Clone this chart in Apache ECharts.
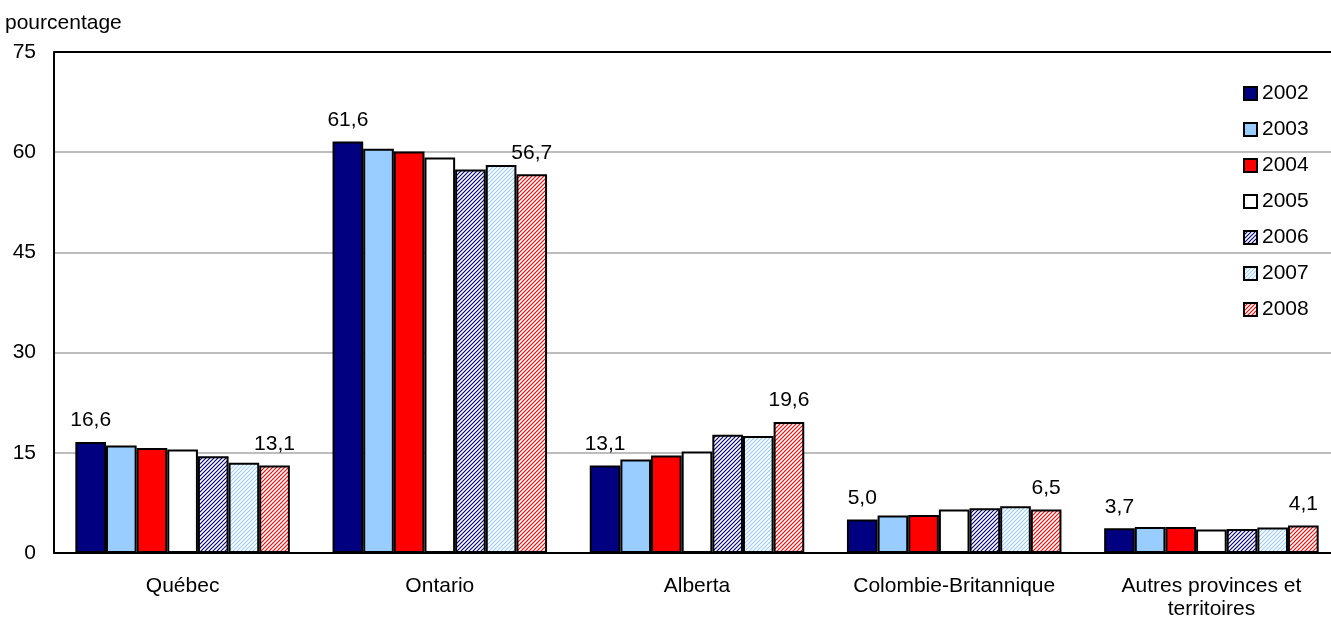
<!DOCTYPE html>
<html>
<head>
<meta charset="utf-8">
<script src="https://cdn.jsdelivr.net/npm/echarts@6/dist/echarts.min.js"></script>
<style>
  html, body { margin: 0; padding: 0; background: #fff; }
  #chart { width: 1331px; height: 619px; }
</style>
</head>
<body>
<div id="chart"></div>
<script>
// Provinces / regions on the category axis
const categories = ['Québec', 'Ontario', 'Alberta', 'Colombie-Britannique', 'Autres provinces et\nterritoires'];
const years = ['2002', '2003', '2004', '2005', '2006', '2007', '2008'];

// Share (percentage) per year
const v2002 = [16.6, 61.6, 13.1, 5.0, 3.7];
const v2003 = [16.1, 60.5, 14.0, 5.6, 3.9];
const v2004 = [15.7, 60.1, 14.6, 5.7, 3.9];
const v2005 = [15.5, 59.2, 15.2, 6.5, 3.5];
const v2006 = [14.5, 57.4, 17.7, 6.7, 3.6];
const v2007 = [13.5, 58.1, 17.5, 7.0, 3.8];
const v2008 = [13.1, 56.7, 19.6, 6.5, 4.1];

const yTicks = [0, 15, 30, 45, 60, 75];

const FONT = '"Liberation Sans", Arial, Helvetica, sans-serif';
const FS = 21;

// Diagonal "/" stripe fill on white
function stripes(color) {
  const n = 4;
  const c = document.createElement('canvas');
  c.width = n; c.height = n;
  const g = c.getContext('2d');
  g.fillStyle = '#fff';
  g.fillRect(0, 0, n, n);
  g.strokeStyle = color;
  g.lineWidth = 1.15;
  g.beginPath();
  g.moveTo(-1, n + 1); g.lineTo(n + 1, -1);
  g.moveTo(-1, 1); g.lineTo(1, -1);
  g.moveTo(n - 1, n + 1); g.lineTo(n + 1, n - 1);
  g.stroke();
  return { image: c, repeat: 'repeat' };
}

const fills = [
  '#000080',
  '#99CCFF',
  '#FF0000',
  '#FFFFFF',
  stripes('#000080'),
  stripes('#99CCFF'),
  stripes('#FF0000')
];
const values = [v2002, v2003, v2004, v2005, v2006, v2007, v2008];

const fmt = p => p.value.toFixed(1).replace('.', ',');

const series = years.map((y, i) => ({
  name: y,
  type: 'bar',
  data: values[i],
  barGap: 0,
  barCategoryGap: '16.6%',
  itemStyle: { color: fills[i], borderColor: '#000', borderWidth: 2 },
  label: {
    show: i === 0 || i === years.length - 1,
    position: 'top',
    distance: 11,
    formatter: fmt,
    color: '#000',
    fontSize: FS,
    fontFamily: FONT
  },
  emphasis: { disabled: true }
}));

// grey grid lines, black frame line on top
const gridColors = yTicks.map((t, i) => (i === yTicks.length - 1 ? '#000' : '#BDBDBD'));

const chart = echarts.init(document.getElementById('chart'), null, { renderer: 'canvas' });
chart.setOption({
  animation: false,
  backgroundColor: '#fff',
  textStyle: { fontFamily: FONT, color: '#000' },
  title: {
    text: 'pourcentage',
    left: 0,
    top: 8,
    textStyle: { fontSize: FS, fontWeight: 'normal', color: '#000', fontFamily: FONT }
  },
  legend: {
    orient: 'vertical',
    left: 1243,
    top: 83,
    padding: 0,
    itemWidth: 13,
    itemHeight: 13,
    itemGap: 15,
    icon: 'rect',
    data: years,
    textStyle: { fontSize: FS, color: '#000', fontFamily: FONT }
  },
  grid: {
    left: 54,
    top: 52,
    width: 1286,
    bottom: 66,
    outerBoundsMode: 'none',
    containLabel: false
  },
  xAxis: {
    type: 'category',
    data: categories,
    axisLine: { lineStyle: { color: '#000', width: 2 } },
    axisTick: { show: false },
    axisLabel: { fontSize: FS, color: '#000', fontFamily: FONT, margin: 22, lineHeight: 23, interval: 0 }
  },
  yAxis: {
    type: 'value',
    min: yTicks[0],
    max: yTicks[yTicks.length - 1],
    interval: yTicks[1] - yTicks[0],
    axisLine: { show: true, lineStyle: { color: '#000', width: 2 } },
    axisTick: { show: false },
    axisLabel: { fontSize: FS, color: '#000', fontFamily: FONT, margin: 18 },
    splitLine: { lineStyle: { color: gridColors, width: 2 } }
  },
  series: series
});
</script>
</body>
</html>
